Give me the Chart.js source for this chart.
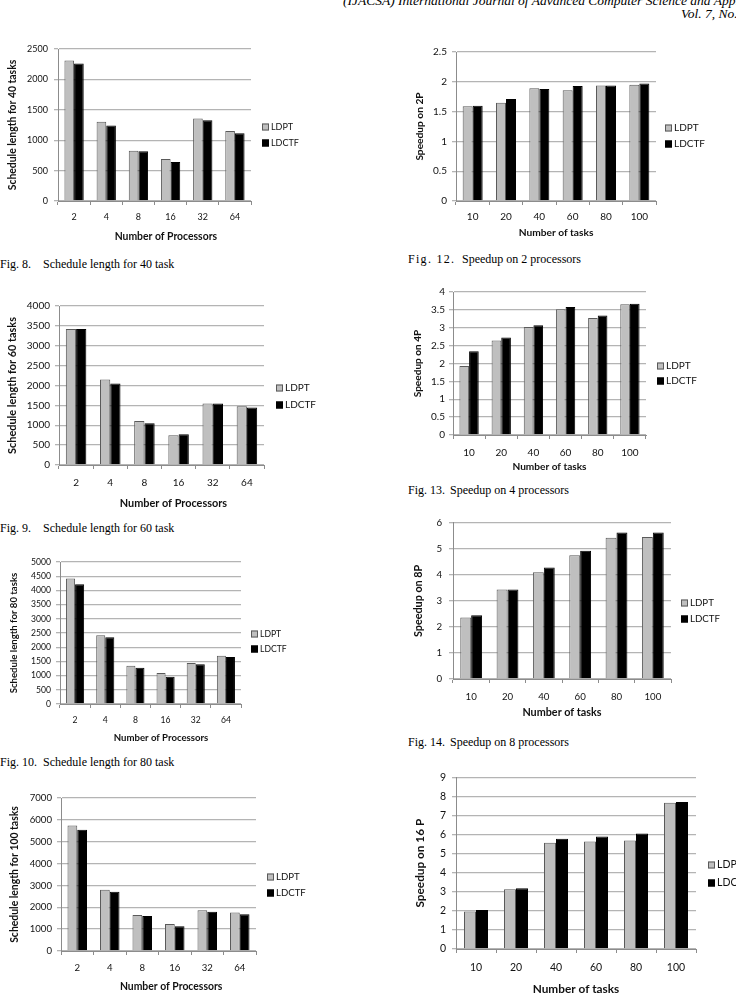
<!DOCTYPE html>
<html>
<head>
<meta charset="utf-8">
<script src="https://cdn.jsdelivr.net/npm/chart.js@4"></script>
<style>
  html, body { margin: 0; padding: 0; background: #fff; }
  body { width: 736px; height: 995px; position: relative; overflow: hidden; }
  canvas { position: absolute; }
  .hdr { position: absolute; font: italic 13.5px "Liberation Serif", serif; line-height: 15px; white-space: nowrap; color: #000; }
  .cap { position: absolute; font: 12px "Liberation Serif", serif; line-height: 13px; white-space: nowrap; color: #000; }
  .cap span { position: absolute; top: 0; }
</style>
</head>
<body>
<div class="hdr" style="left:343px;top:-7px">(IJACSA) International Journal of Advanced Computer Science and Applications,</div>
<div class="hdr" style="left:681px;top:6px">Vol. 7, No.</div>

<canvas id="c1"></canvas>
<canvas id="c2"></canvas>
<canvas id="c3"></canvas>
<canvas id="c4"></canvas>
<canvas id="c5"></canvas>
<canvas id="c6"></canvas>
<canvas id="c7"></canvas>
<canvas id="c8"></canvas>

<div class="cap" style="left:0px;top:257.5px">Fig. 8.<span style="left:43px">Schedule length for 40 task</span></div>
<div class="cap" style="left:408px;top:253px"><b style="font-weight:normal;letter-spacing:1.3px">Fig. 12.</b><span style="left:54px">Speedup on 2 processors</span></div>
<div class="cap" style="left:0px;top:521.5px">Fig. 9.<span style="left:43px">Schedule length for 60 task</span></div>
<div class="cap" style="left:408px;top:483.5px">Fig. 13.<span style="left:42px">Speedup on 4 processors</span></div>
<div class="cap" style="left:0px;top:755.5px">Fig. 10.<span style="left:43px">Schedule length for 80 task</span></div>
<div class="cap" style="left:408px;top:735.5px">Fig. 14.<span style="left:42px">Speedup on 8 processors</span></div>

<script>
// categorías y series
const processors = ['2', '4', '8', '16', '32', '64'];
const taskCounts = ['10', '20', '40', '60', '80', '100'];
const seriesNames = ['LDPT', 'LDCTF'];

// longitud de planificación (schedule length)
const sl40Ldpt = [2310, 1305, 825, 690, 1355, 1150];
const sl40Ldctf = [2260, 1240, 820, 640, 1330, 1115];
const sl60Ldpt = [3420, 2150, 1110, 750, 1550, 1480];
const sl60Ldctf = [3420, 2050, 1050, 775, 1550, 1445];
const sl80Ldpt = [4420, 2420, 1345, 1090, 1440, 1700];
const sl80Ldctf = [4220, 2350, 1275, 960, 1400, 1655];
const sl100Ldpt = [5740, 2800, 1650, 1230, 1870, 1760];
const sl100Ldctf = [5550, 2710, 1600, 1130, 1800, 1680];

// speedup
const sp2Ldpt = [1.59, 1.65, 1.89, 1.86, 1.94, 1.95];
const sp2Ldctf = [1.60, 1.71, 1.88, 1.93, 1.94, 1.97];
const sp4Ldpt = [1.93, 2.64, 3.02, 3.52, 3.27, 3.66];
const sp4Ldctf = [2.34, 2.73, 3.07, 3.58, 3.34, 3.67];
const sp8Ldpt = [2.36, 3.44, 4.10, 4.75, 5.43, 5.46];
const sp8Ldctf = [2.45, 3.44, 4.28, 4.93, 5.63, 5.63];
const sp16Ldpt = [1.96, 3.13, 5.57, 5.64, 5.69, 7.66];
const sp16Ldctf = [2.05, 3.19, 5.78, 5.90, 6.06, 7.71];

Chart.defaults.font.family = 'Lato';
Chart.defaults.color = '#111';

// leyenda tipo Excel (cuadro + texto) a la derecha
const boxLegend = {
  id: 'boxLegend',
  afterDraw(chart, args, o) {
    const ctx = chart.ctx;
    ctx.save();
    ctx.font = o.size + 'px Lato';
    ctx.textBaseline = 'middle';
    chart.data.datasets.forEach((ds, i) => {
      const y = o.y[i];
      ctx.fillStyle = ds.backgroundColor;
      ctx.fillRect(o.x, y - 3.5, 7, 7);
      ctx.strokeStyle = ds.borderColor;
      ctx.lineWidth = 1;
      ctx.strokeRect(o.x + 0.5, y - 3, 6, 6);
      ctx.fillStyle = '#111';
      ctx.fillText(ds.label, o.x + 9, y);
    });
    ctx.restore();
  }
};

// posiciones en la página: área de gráfico (pl, pt, pr, pb), etiquetas, títulos, leyenda
// xs = desplazamiento del título X hacia la derecha (px)
const specs = [
  { id: 'c1', cats: processors, a: sl40Ldpt, b: sl40Ldctf, max: 2500, step: 500, yTitle: 'Schedule length for 40 tasks', xTitle: 'Number of Processors',
    cx: 0, pl: 58, pt: 49, pr: 251, pb: 201, yl: 48, yt: 13, xl: 217, xt: 237, lx: 262, ly: [127, 143], fs: 9, ft: 10.4, xs: 11 },
  { id: 'c2', cats: taskCounts, a: sp2Ldpt, b: sp2Ldctf, max: 2.5, step: 0.5, yTitle: 'Speedup on 2P', xTitle: 'Number of tasks',
    cx: 372, pl: 456, pt: 52, pr: 656, pb: 201, yl: 447, yt: 420, xl: 217, xt: 233, lx: 665, ly: [128, 144], fs: 10, ft: 10.2, xs: 0 },
  { id: 'c3', cats: processors, a: sl60Ldpt, b: sl60Ldctf, max: 4000, step: 500, yTitle: 'Schedule length for 60 tasks', xTitle: 'Number of Processors',
    cx: 0, pl: 59, pt: 306, pr: 264, pb: 465, yl: 50, yt: 12, xl: 483, xt: 503, lx: 276, ly: [388, 405], fs: 10, ft: 10.9, xs: 12 },
  { id: 'c4', cats: taskCounts, a: sp4Ldpt, b: sp4Ldctf, max: 4, step: 0.5, yTitle: 'Speedup on 4P', xTitle: 'Number of tasks',
    cx: 372, pl: 453, pt: 292, pr: 646, pb: 435, yl: 445, yt: 418, xl: 453, xt: 467, lx: 657, ly: [366, 381], fs: 10, ft: 10.1, xs: 0 },
  { id: 'c5', cats: processors, a: sl80Ldpt, b: sl80Ldctf, max: 5000, step: 500, yTitle: 'Schedule length for 80 tasks', xTitle: 'Number of Processors',
    cx: 0, pl: 60, pt: 562, pr: 241, pb: 704, yl: 51, yt: 14, xl: 720, xt: 738, lx: 251, ly: [634, 649], fs: 8.6, ft: 9.6, xs: 11 },
  { id: 'c6', cats: taskCounts, a: sp8Ldpt, b: sp8Ldctf, max: 6, step: 1, yTitle: 'Speedup on 8P', xTitle: 'Number of tasks',
    cx: 372, pl: 453, pt: 522, pr: 671, pb: 679, yl: 442, yt: 419, xl: 697, xt: 713, lx: 681, ly: [603, 619], fs: 9.7, ft: 10.8, xs: 0 },
  { id: 'c7', cats: processors, a: sl100Ldpt, b: sl100Ldctf, max: 7000, step: 1000, yTitle: 'Schedule length for 100 tasks', xTitle: 'Number of Processors',
    cx: 0, pl: 61, pt: 798, pr: 256, pb: 951, yl: 52, yt: 15, xl: 968, xt: 987, lx: 267, ly: [877, 893], fs: 9.6, ft: 10.4, xs: 12 },
  { id: 'c8', cats: taskCounts, a: sp16Ldpt, b: sp16Ldctf, max: 9, step: 1, yTitle: 'Speedup on 16 P', xTitle: 'Number of tasks',
    cx: 372, pl: 456, pt: 777, pr: 696, pb: 949, yl: 446, yt: 420, xl: 968, xt: 989, lx: 708, ly: [865, 883], fs: 10.5, ft: 11.8, xs: 0 }
];

// título X desplazado: se antepone espacio en blanco (el texto se centra con su ancho)
function shiftedTitle(text, px, size) {
  if (!px) return text;
  const ctx = document.createElement('canvas').getContext('2d');
  ctx.font = 'bold ' + size + 'px Lato';
  const sp = ctx.measureText(' ').width || size * 0.2;
  return ' '.repeat(Math.round(2 * px / sp)) + text;
}

specs.forEach(s => {
  const cy = s.pt - 12;
  const cw = s.cx === 0 ? 372 : 736 - s.cx;
  const ch = s.xt + 12 - cy;
  const xh = s.xt - s.pb + 0.6 * s.ft;
  const canvas = document.getElementById(s.id);
  canvas.width = cw;
  canvas.height = ch;
  canvas.style.left = s.cx + 'px';
  canvas.style.top = cy + 'px';

  new Chart(canvas.getContext('2d'), {
    type: 'bar',
    data: {
      labels: s.cats,
      datasets: [
        { label: seriesNames[0], data: s.a, backgroundColor: '#bfbfbf', borderColor: '#5a5a5a', borderWidth: 1 },
        { label: seriesNames[1], data: s.b, backgroundColor: '#000000', borderColor: '#000000', borderWidth: 1 }
      ]
    },
    options: {
      responsive: false,
      animation: false,
      layout: { padding: { left: 0, top: 12, right: cw - (s.pr - s.cx), bottom: ch - (s.pb - cy) - xh } },
      datasets: { bar: { categoryPercentage: 0.6, barPercentage: 1.0 } },
      scales: {
        x: {
          grid: { display: true, offset: true, drawOnChartArea: false, drawTicks: true, tickLength: 4, color: '#8c8c8c' },
          border: { color: '#8c8c8c', width: 1 },
          ticks: { font: { size: s.fs }, padding: s.xl - s.pb - 4 - 0.6 * s.fs, maxRotation: 0, autoSkip: false },
          title: { display: true, text: shiftedTitle(s.xTitle, s.xs, s.ft), font: { size: s.ft, weight: 'bold' }, padding: 0, color: '#111' },
          afterFit: sc => { sc.height = xh; }
        },
        y: {
          min: 0,
          max: s.max,
          grid: { color: '#b4b4b4', lineWidth: 1.3, tickLength: 4 },
          border: { color: '#8c8c8c', width: 1 },
          ticks: { stepSize: s.step, font: { size: s.fs }, padding: s.pl - s.yl - 4, callback: v => String(v) },
          title: { display: true, text: s.yTitle, font: { size: s.ft, weight: 'bold' }, padding: { top: s.yt - s.cx - 0.6 * s.ft, bottom: 0 }, color: '#111' },
          afterFit: sc => { sc.width = s.pl - s.cx; }
        }
      },
      plugins: {
        legend: { display: false },
        tooltip: { enabled: false },
        boxLegend: { x: s.lx - s.cx, y: s.ly.map(v => v - cy), size: s.fs }
      }
    },
    plugins: [boxLegend]
  });
});
</script>
</body>
</html>
